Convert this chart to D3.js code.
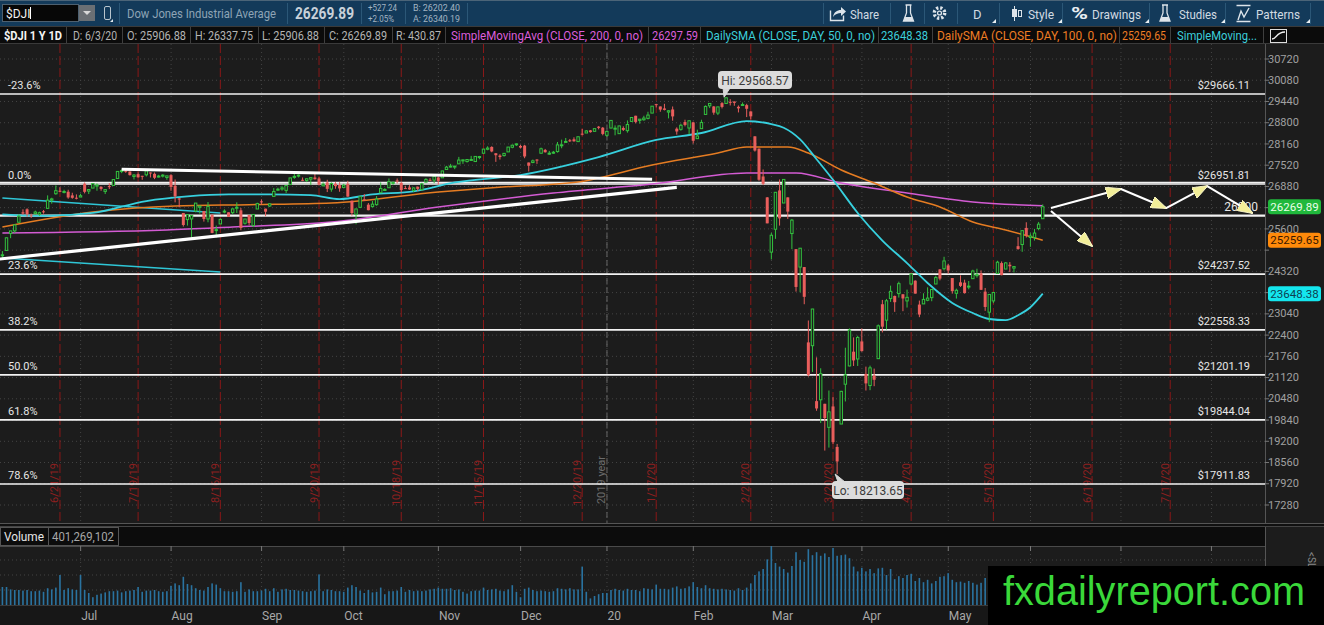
<!DOCTYPE html>
<html>
<head>
<meta charset="utf-8">
<script src="https://cdn.jsdelivr.net/npm/d3@7"></script>
<style>
  body { margin: 0; background: #1c1c1c; overflow: hidden; }
  svg { display: block; font-family: Roboto, "Open Sans", sans-serif; }
</style>
</head>
<body>
<svg id="chart" width="1324" height="625"></svg>
<script>
// ---- calendar ----
const startDate = "2019-06-03", endDate = "2020-09-01";
const holidays = ["2019-07-04","2019-09-02","2019-11-28","2019-12-25","2020-01-01",
  "2020-01-20","2020-02-17","2020-04-10","2020-05-25","2020-07-03"];

// ---- daily OHLC, $DJI 6/3/19 .. 6/3/20 (one row per month) ----
const opens = [
  24815,24950,25460,25540,25800,26100,26190,26010,26060,26040,26130,26220,26470,26660,26750,26700,26720,26610,26540,26560,
  26960,26740,26830,26890,26870,26730,26890,26910,27120,27350,27350,27330,27180,27250,27200,27230,27300,27260,27180,27190,27150,27220,
  26900,26520,26080,25880,25900,26140,26250,26140,25900,26030,25560,25750,26110,26100,26090,26250,26160,25770,26020,25700,26200,26430,
  26210,26290,26580,26770,26800,26760,26940,27180,27200,27080,27060,27100,27150,27120,26900,27000,26800,26960,26920,26850,
  26960,26450,26040,26250,26490,26330,26270,26330,26690,26770,26840,26990,27060,26990,26830,26850,26760,26870,26780,27010,27080,27070,27150,
  27140,27390,27480,27470,27560,27650,27630,27690,27630,27750,27880,28000,28070,27880,27810,27810,27920,28060,28140,28100,
  28110,27600,27600,27690,27880,27980,27880,27900,27930,28120,28230,28270,28300,28230,28470,28490,28570,28540,28680,28650,28420,
  28640,28630,28470,28640,28560,28840,29010,28870,28890,28930,29090,29360,29290,29230,29120,29200,28620,28600,28820,28640,28810,
  28320,28620,29050,29310,29290,29090,29390,29380,29430,29440,29280,29340,29330,29140,28390,28020,27180,26550,24900,
  25590,26760,26380,26550,25460,24990,24450,24450,22180,22080,20410,20450,20330,19620,20250,19030,19720,20920,21470,21900,21680,22210,
  21230,20880,21180,21690,23330,22850,23500,23580,23650,23630,23430,23940,24040,23320,23340,23450,23530,23940,24380,24400,24500,
  24120,23660,23990,23980,23870,24100,24220,24260,23710,23090,23430,24260,24570,24390,24520,24420,25080,25130,25630,25340,
  25340,25610,25907
];
const highs = [
  24930,25340,25540,25740,26040,26190,26220,26060,26150,26120,26170,26610,26540,26910,26860,26780,26780,26690,26640,26660,
  27000,26790,26970,26970,26880,26790,26980,27100,27340,27390,27400,27330,27250,27300,27200,27350,27300,27300,27230,27250,27200,27250,
  27090,26530,26080,26030,26010,26380,26300,26140,26410,26030,25700,25920,26190,26100,26220,26400,26230,25900,26020,26050,26390,26490,
  26210,26370,26830,26840,26900,26910,27140,27310,27240,27150,27120,27150,27300,27160,27000,27080,27000,27010,27010,26960,
  27050,26450,26210,26590,26650,26380,26440,26590,27000,26830,27120,27030,27120,27010,26900,26920,26850,26880,26990,27130,27130,27200,27170,
  27350,27500,27560,27500,27770,27690,27690,27800,27790,27800,28010,28090,28090,27880,27850,27890,28070,28140,28170,28130,
  28130,27600,27690,27700,28050,28010,27950,27950,28220,28290,28340,28310,28360,28380,28610,28580,28580,28620,28700,28670,28550,
  28870,28720,28710,28690,28870,28960,29010,28910,29010,29130,29300,29370,29290,29370,29180,29290,28660,28770,28890,28860,28830,
  28590,28890,29320,29390,29300,29280,29420,29569,29510,29440,29320,29410,29370,29140,28390,28020,27390,26560,25480,
  26710,27090,27090,26550,25900,24990,25020,24450,22840,23190,21730,21400,20330,20730,20530,19120,20720,22020,22600,22330,22380,22600,
  21450,21480,21390,22720,23460,23490,23890,23590,24010,23630,23770,24260,24050,23440,23660,23840,23790,24190,24390,24760,24550,
  24120,23800,24200,24070,24030,24370,24400,24350,23820,23630,23690,24640,24620,24600,24600,24470,25350,25550,25800,25470,
  25600,25810,26338
];
const lows = [
  24680,24940,25320,25480,25800,26030,25970,25930,26030,25990,26060,26200,26360,26630,26710,26670,26510,26510,26490,26560,
  26670,26650,26830,26750,26750,26650,26800,26900,27110,27280,27290,27210,27090,27150,27080,27180,27150,27100,27150,27150,27080,26750,
  26400,26250,25670,25700,25340,26100,26060,25820,25800,25470,25340,25750,26070,25960,26040,26080,25560,25730,25710,25660,26200,26330,
  25980,26260,26580,26740,26750,26680,26920,27110,27150,27040,27010,26920,27090,26910,26880,26710,26720,26810,26720,26850,
  26570,26000,25740,26230,26440,26160,26250,26300,26690,26740,26840,26930,26970,26700,26810,26780,26710,26740,26760,27000,27040,26980,26930,
  27140,27390,27450,27400,27560,27560,27600,27660,27620,27700,27870,27970,27910,27620,27690,27780,27920,28030,28100,28030,
  27730,27330,27580,27560,27880,27900,27830,27860,27900,28030,28230,28220,28230,28220,28420,28490,28500,28540,28600,28420,28380,
  28630,28420,28460,28550,28500,28840,28780,28770,28860,28900,29090,29260,29130,29170,28930,28860,28440,28560,28690,28450,28170,
  28320,28620,29050,29240,29040,29030,29230,29380,29320,29310,29110,29320,28970,28900,27930,27050,26920,25770,24680,
  25300,25700,26380,25900,24990,23710,23690,23330,21150,21290,20120,19750,18920,19010,19120,18214,19720,20400,21460,21470,21470,21900,
  20730,20740,20860,21690,22480,22570,23400,23100,23530,23120,23230,23900,23650,22940,23340,23420,23420,23940,24050,24350,24250,
  23650,23500,23850,23650,23780,24100,24130,23760,23130,22790,23360,24260,24200,24390,24300,24290,24970,24910,25340,25060,
  25250,25560,25907
];
const closes = [
  24820,25332,25540,25721,25984,26063,26049,26005,26107,26090,26113,26466,26504,26753,26719,26728,26548,26537,26527,26600,
  26717,26787,26966,26922,26806,26783,26860,27088,27332,27359,27336,27220,27223,27154,27172,27349,27270,27141,27192,27221,27198,26864,
  26583,26485,25718,26030,26007,26378,26287,25898,26280,25479,25579,25886,26136,25962,26203,26252,25629,25899,25778,26036,26362,26403,
  26118,26355,26728,26797,26836,26909,27137,27182,27220,27077,27111,27147,27095,26935,26950,26808,26971,26891,26820,26917,
  26573,26079,26201,26574,26478,26164,26346,26497,26817,26787,27025,27002,27026,26770,26828,26788,26834,26806,26958,27091,27071,27187,27046,
  27347,27462,27493,27493,27675,27681,27691,27692,27784,27782,28005,28036,27934,27821,27766,27876,28066,28122,28164,28051,
  27783,27503,27650,27678,28015,27910,27882,27911,28132,28135,28236,28267,28239,28377,28455,28552,28515,28621,28645,28462,28538,
  28869,28635,28703,28584,28745,28957,28824,28907,28940,29030,29298,29348,29196,29186,29160,28990,28536,28723,28734,28859,28256,
  28400,28808,29291,29380,29103,29277,29276,29551,29423,29398,29232,29348,29220,28992,27961,27081,26958,25767,25409,
  26703,25917,27091,26121,25865,23851,25018,23553,21201,23186,20189,21237,19899,20087,19174,18592,20705,21201,22552,21637,22327,21917,
  20944,21413,21053,22680,22654,23434,23719,23391,23950,23504,23538,24242,23650,23019,23476,23515,23775,24134,24102,24634,24346,
  23724,23750,23883,23665,23876,24331,24222,23765,23248,23625,23685,24597,24207,24576,24474,24465,24995,25548,25401,25383,
  25475,25743,26270
];
// volume, millions of shares
const volumes = [
  300,300,260,250,250,240,250,230,230,240,220,280,260,290,500,250,280,260,250,500,
  250,200,130,170,190,210,230,230,240,210,230,240,250,300,220,240,240,250,230,220,230,320,
  360,330,470,350,330,280,250,240,300,360,340,280,230,230,220,230,380,220,260,230,230,240,
  270,230,280,220,260,270,250,250,240,230,220,230,240,510,230,260,250,230,230,220,
  290,330,300,240,200,250,210,220,290,180,230,230,240,300,220,250,230,240,230,240,260,270,290,
  270,270,280,250,260,220,190,230,240,240,290,250,260,270,240,230,260,330,220,130,
  270,290,250,230,240,230,220,230,280,270,260,280,260,260,640,220,110,150,180,200,200,
  250,270,250,240,270,250,250,230,280,270,260,340,270,270,260,290,310,270,280,310,380,
  300,280,330,280,270,260,270,260,250,240,280,250,290,360,500,560,600,760,980,
  700,640,600,540,650,880,750,720,930,830,880,820,860,800,950,820,830,840,780,640,560,620,
  560,600,530,610,620,500,600,430,480,450,500,520,400,450,380,420,360,400,470,480,530,
  420,380,390,370,400,370,340,370,450,430,480,460,390,350,380,320,430,490,440,560,
  360,370,401
];

// ---- studies at bar numbers ----
const sma50Bars = [0,10,22,35,45,55,65,75,82,90,100,110,126,145,159,170,181,187,190,194,198,202,208,214,220,225,231,236,240,244,247,250,253];
const sma50 = [26040,25990,26080,26440,26580,26640,26640,26620,26500,26640,26730,27000,27224,27766,28280,28490,28850,28760,28650,28300,27700,27080,26080,25250,24570,23970,23370,23065,22885,22850,23000,23240,23648];
const sma100Bars = [0,22,42,60,80,106,120,140,158,174,181,191,196,204,212,220,228,236,244,253];
const sma100 = [25657,26109,26290,26330,26380,26712,26850,27013,27525,27887,28068,28068,27887,27375,26983,26561,26260,25807,25566,25260];
const sma200Bars = [0,40,56,80,106,134,158,181,193,204,220,236,253];
const sma200 = [25476,25566,25657,25807,26260,26682,26953,27284,27284,26983,26682,26410,26298];
const channelBars = [0, 53];
const channelUpper = [26530, 26079];
const channelLower = [24722, 24300];

// ---- drawings ----
const fibLabels = ["-23.6%", "0.0%", "23.6%", "38.2%", "50.0%", "61.8%", "78.6%"];
const fibPrices = [29666.11, 26951.81, 24237.52, 22558.33, 21201.19, 19844.04, 17911.83];
const extraLevels = [27000, 26000];
const upperTrendBars = [29, 158], upperTrend = [27400, 27100];
const lowerTrendBars = [0, 164], lowerTrend = [24700, 26850];
const pathBars = [255, 272, 283, 293, 304], pathPrices = [26229, 26802, 26229, 26892, 26078];
const dropBars = [255, 265], dropPrices = [26140, 25084];
const expiryDates = ["2019-06-21","2019-07-19","2019-08-16","2019-09-20","2019-10-18","2019-11-15",
  "2019-12-20","2020-01-17","2020-02-21","2020-03-20","2020-04-17","2020-05-15","2020-06-19","2020-07-17"];
const priceTicks = d3.range(17280, 30721, 640);
const lastClose = 26269.89, lastSma200 = 26297.59, lastSma50 = 23648.38, lastSma100 = 25259.65;

// ---- layout ----
const W = 1324, H = 625;
const plotR = 1265, priceTop = 44, priceBot = 523;
const volTop = 546, volBot = 605;
const bg = "#1c1c1c";

const parse = d3.utcParse("%Y-%m-%d"), fmt = d3.utcFormat("%Y-%m-%d");
const holidaySet = new Set(holidays);
const days = d3.utcDay.range(parse(startDate), parse(endDate))
  .filter(d => d.getUTCDay() % 6 !== 0 && !holidaySet.has(fmt(d)));
const dayIndex = new Map(days.map((d, i) => [fmt(d), i]));

const x = d3.scaleLinear().domain([0, 307]).range([2.4, 2.4 + 307 * 4.112]);
const y = d3.scaleLinear().domain([17280, 30720]).range([505, 59]);
const yv = d3.scaleLinear().domain([0, 983]).range([volBot, volTop]);

const hiBar = d3.maxIndex(highs), loBar = d3.minIndex(lows);

const svg = d3.select("#chart");
svg.append("rect").attr("width", W).attr("height", H).attr("fill", bg);

const defs = svg.append("defs");
defs.append("clipPath").attr("id", "priceClip").append("rect")
  .attr("x", 0).attr("y", priceTop).attr("width", plotR).attr("height", priceBot - priceTop);
defs.append("marker").attr("id", "head").attr("markerUnits", "userSpaceOnUse")
  .attr("viewBox", "0 0 16 12").attr("markerWidth", 16).attr("markerHeight", 12)
  .attr("refX", 15).attr("refY", 6).attr("orient", "auto")
  .append("path").attr("d", "M0,0L16,6L0,12Z").attr("fill", "#f2ee98").attr("stroke", "#fffbd0").attr("stroke-width", 0.8);

function label(g, px, py, s, o) {
  o = o || {};
  const t = g.append("text").attr("x", px).attr("y", py).text(s)
    .attr("fill", o.fill || "#ccc").attr("font-size", o.size || 11)
    .attr("text-anchor", o.anchor || "start");
  if (o.weight) t.attr("font-weight", o.weight);
  if (o.family) t.attr("font-family", o.family);
  if (o.len) t.attr("textLength", o.len).attr("lengthAdjust", "spacingAndGlyphs");
  return t;
}

// month boundaries
const monthStarts = [];
days.forEach((d, i) => { if (i > 0 && d.getUTCMonth() !== days[i - 1].getUTCMonth()) monthStarts.push(i); });
const monthName = i => days[i].getUTCMonth() === 0 ? d3.utcFormat("%y")(days[i]) : d3.utcFormat("%b")(days[i]);
const gridX = i => x(i) - 4;

// ---- price panel ----
const price = svg.append("g").attr("clip-path", "url(#priceClip)");

price.append("g").selectAll("line").data(priceTicks).join("line")
  .attr("x1", 0).attr("x2", plotR).attr("y1", d => y(d)).attr("y2", d => y(d))
  .attr("stroke", "#444").attr("stroke-dasharray", "1,3");
price.append("g").selectAll("line").data(monthStarts).join("line")
  .attr("x1", gridX).attr("x2", gridX).attr("y1", priceTop).attr("y2", priceBot)
  .attr("stroke", "#444").attr("stroke-dasharray", "1,3");

// option expiry markers
const exp = price.append("g");
expiryDates.forEach(ds => {
  const ex = x(dayIndex.get(ds));
  exp.append("line").attr("x1", ex).attr("x2", ex).attr("y1", priceTop).attr("y2", priceBot)
    .attr("stroke", "#8a1818").attr("stroke-dasharray", "9,3");
  const p = ds.split("-");
  exp.append("text").attr("transform", `translate(${ex - 1.5},483) rotate(-90)`)
    .attr("text-anchor", "middle").attr("font-size", 11).attr("fill", "#8e2020")
    .text(`${+p[1]}/${+p[2]}/${p[0].slice(2)}`);
});
const yearX = gridX(dayIndex.get("2020-01-02"));
exp.append("line").attr("x1", yearX).attr("x2", yearX).attr("y1", priceTop).attr("y2", priceBot)
  .attr("stroke", "#666").attr("stroke-dasharray", "6,3");
exp.append("text").attr("transform", `translate(${yearX - 2},480) rotate(-90)`)
  .attr("text-anchor", "middle").attr("font-size", 11).attr("fill", "#6c6c6c").text("2019 year");

// fibonacci levels
const fib = price.append("g");
fibPrices.forEach((p, k) => {
  fib.append("line").attr("x1", 0).attr("x2", plotR).attr("y1", y(p)).attr("y2", y(p))
    .attr("stroke", "#f2f2f2").attr("stroke-width", 1.6);
  label(fib, 8, y(p) - 5, fibLabels[k], { fill: "#e6e6e6" });
  label(fib, 1250, y(p) - 5, "$" + p.toFixed(2), { fill: "#e6e6e6", anchor: "end" });
});
extraLevels.forEach(p => {
  fib.append("line").attr("x1", 0).attr("x2", plotR).attr("y1", y(p)).attr("y2", y(p))
    .attr("stroke", "#f2f2f2").attr("stroke-width", p === 26000 ? 2.2 : 1.6);
});
label(fib, 1258, y(26000) - 5, "26000", { fill: "#e6e6e6", anchor: "end", size: 12 });

// studies
const line = (bars, vals) => d3.line().curve(d3.curveMonotoneX)
  .x((d, k) => x(bars[k])).y((d, k) => y(vals[k]))(vals);
const studies = price.append("g").attr("fill", "none").attr("stroke-width", 1.5);
studies.append("path").attr("d", line(channelBars, channelUpper)).attr("stroke", "#2fc6d6");
studies.append("path").attr("d", line(channelBars, channelLower)).attr("stroke", "#2fc6d6");
studies.append("path").attr("d", line(sma200Bars, sma200)).attr("stroke", "#d35bd3");
studies.append("path").attr("d", line(sma100Bars, sma100)).attr("stroke", "#e57c22");
studies.append("path").attr("d", line(sma50Bars, sma50)).attr("stroke", "#37d0de").attr("stroke-width", 1.8);

// candles
const up = "#33c23f", down = "#e95e5c";
const candles = closes.map((c, i) => ({ i, o: opens[i], h: highs[i], l: lows[i], c }));
const candle = price.append("g").selectAll("g").data(candles).join("g");
candle.append("line")
  .attr("x1", d => x(d.i)).attr("x2", d => x(d.i))
  .attr("y1", d => y(d.h)).attr("y2", d => y(d.l))
  .attr("stroke", d => d.c >= d.o ? up : down);
candle.append("rect")
  .attr("x", d => x(d.i) - (d.c >= d.o ? 1.2 : 1.5))
  .attr("width", d => d.c >= d.o ? 2.4 : 3)
  .attr("y", d => y(Math.max(d.o, d.c)))
  .attr("height", d => Math.max(1, Math.abs(y(d.o) - y(d.c))))
  .attr("fill", d => d.c >= d.o ? bg : down)
  .attr("stroke", d => d.c >= d.o ? up : "none");

// trend lines and projected path
const draw = price.append("g").attr("stroke", "#fff").attr("fill", "none");
draw.append("line").attr("x1", x(upperTrendBars[0])).attr("y1", y(upperTrend[0]))
  .attr("x2", x(upperTrendBars[1])).attr("y2", y(upperTrend[1])).attr("stroke-width", 3);
draw.append("line").attr("x1", x(lowerTrendBars[0]) - 3).attr("y1", y(lowerTrend[0]) + 0.3)
  .attr("x2", x(lowerTrendBars[1])).attr("y2", y(lowerTrend[1])).attr("stroke-width", 3.2);
d3.pairs(d3.range(pathBars.length)).forEach(([a, b]) => {
  draw.append("line").attr("x1", x(pathBars[a])).attr("y1", y(pathPrices[a]))
    .attr("x2", x(pathBars[b])).attr("y2", y(pathPrices[b]))
    .attr("stroke-width", 2).attr("marker-end", "url(#head)");
});
draw.append("line").attr("x1", x(dropBars[0])).attr("y1", y(dropPrices[0]))
  .attr("x2", x(dropBars[1])).attr("y2", y(dropPrices[1]))
  .attr("stroke-width", 2).attr("marker-end", "url(#head)");

// hi / lo callouts
function callout(bx, by, bw, txt, tipX, tipY, cornerX, cornerY) {
  const g = price.append("g");
  g.append("path").attr("d", `M${tipX},${tipY}L${cornerX},${cornerY}L${cornerX + 7},${cornerY}Z`)
    .attr("fill", "#d8d8d8").attr("stroke", "#d8d8d8");
  g.append("rect").attr("x", bx).attr("y", by).attr("width", bw).attr("height", 18).attr("rx", 4)
    .attr("fill", "#dcdcdc");
  label(g, bx + bw / 2, by + 13.5, txt, { fill: "#3a3a3a", size: 12, anchor: "middle" });
}
callout(718, 71, 74, "Hi: 29568.57", x(hiBar) - 2, y(highs[hiBar]), 723, 88);
callout(832, 481, 72, "Lo: 18213.65", x(loBar) - 2, y(lows[loBar]), 838, 482);

// ---- right price axis ----
const axis = svg.append("g");
axis.append("rect").attr("x", plotR).attr("y", priceTop).attr("width", W - plotR).attr("height", volBot - priceTop).attr("fill", bg);
axis.append("line").attr("x1", plotR + 0.5).attr("x2", plotR + 0.5).attr("y1", priceTop).attr("y2", volBot).attr("stroke", "#555");
const tags = [
  { v: lastClose, bgc: "#20b83c", fg: "#eaffea" },
  { v: lastSma100, bgc: "#ff8a0a", fg: "#3a1800" },
  { v: lastSma50, bgc: "#14e6ee", fg: "#0d3f52" }
];
// labels hidden under a price tag are not drawn
const shownTicks = priceTicks.filter(t => tags.every(g => Math.abs(y(t) - y(g.v)) > 10));
axis.selectAll(".tk").data(priceTicks).join("line")
  .attr("x1", plotR).attr("x2", plotR + 4).attr("y1", d => y(d)).attr("y2", d => y(d)).attr("stroke", "#777");
axis.selectAll(".tl").data(shownTicks).join("text")
  .attr("x", plotR + 3).attr("y", d => y(d) + 3.6).attr("font-size", 11).attr("fill", "#a0a0a0")
  .text(d => d);
tags.forEach(t => {
  axis.append("rect").attr("x", plotR + 3).attr("y", y(t.v) - 7.4).attr("width", 53).attr("height", 15)
    .attr("rx", 3).attr("fill", t.bgc);
  label(axis, plotR + 29.5, y(t.v) + 4, t.v.toFixed(2), { fill: t.fg, size: 11.5, anchor: "middle" });
});

// ---- panel separators and volume ----
svg.append("line").attr("x1", 0).attr("x2", W).attr("y1", priceBot + 0.5).attr("y2", priceBot + 0.5).attr("stroke", "#555");
svg.append("rect").attr("x", 0).attr("y", 524).attr("width", W).attr("height", 3).attr("fill", "#101010");
svg.append("rect").attr("x", 0).attr("y", 527).attr("width", plotR).attr("height", 19).attr("fill", "#0c0c0c");
svg.append("line").attr("x1", 0).attr("x2", W).attr("y1", 526.5).attr("y2", 526.5).attr("stroke", "#444");
svg.append("line").attr("x1", 0).attr("x2", plotR).attr("y1", volTop + 0.5).attr("y2", volTop + 0.5).attr("stroke", "#4a4a4a");
svg.append("rect").attr("x", 0.5).attr("y", 527.5).attr("width", 48).attr("height", 18).attr("fill", "none").attr("stroke", "#555");
svg.append("rect").attr("x", 48.5).attr("y", 527.5).attr("width", 70).attr("height", 18).attr("fill", "none").attr("stroke", "#555");
label(svg, 4, 541, "Volume", { fill: "#e6e6e6", size: 12, len: 40 });
label(svg, 52, 541, d3.format(",")(401269102), { fill: "#a8a8a8", size: 12, len: 62 });

const vol = svg.append("g");
vol.selectAll(".vg").data([250, 500, 750]).join("line")
  .attr("x1", 0).attr("x2", plotR).attr("y1", d => yv(d)).attr("y2", d => yv(d))
  .attr("stroke", "#444").attr("stroke-dasharray", "1,3");
vol.selectAll(".vm").data(monthStarts).join("line")
  .attr("x1", gridX).attr("x2", gridX).attr("y1", volTop).attr("y2", volBot)
  .attr("stroke", "#444").attr("stroke-dasharray", "1,3");
vol.selectAll(".vt").data(monthStarts).join("line")
  .attr("x1", gridX).attr("x2", gridX).attr("y1", volTop).attr("y2", volTop + 5).attr("stroke", "#777");
vol.selectAll(".vb").data(volumes).join("rect")
  .attr("x", (d, i) => x(i) - 0.8).attr("width", 1.6)
  .attr("y", d => yv(d)).attr("height", d => volBot - yv(d)).attr("fill", "#2a73a0");
svg.append("text").attr("transform", "translate(1308,552) rotate(90)").attr("font-size", 10)
  .attr("fill", "#888").text("<SL");

// ---- time axis ----
svg.append("rect").attr("x", 0).attr("y", volBot).attr("width", W).attr("height", H - volBot).attr("fill", "#171717");
svg.append("line").attr("x1", 0).attr("x2", plotR).attr("y1", volBot + 0.5).attr("y2", volBot + 0.5).attr("stroke", "#3a3a3a");
// the months under the watermark are not visible
svg.append("g").selectAll("text").data(monthStarts.filter(i => gridX(i) < 975)).join("text")
  .attr("x", d => gridX(d) + 0.5).attr("y", 620).attr("font-size", 12).attr("fill", "#a8a8a8")
  .text(monthName);

// ---- toolbar ----
const toolbar = svg.append("g");
toolbar.append("rect").attr("width", W).attr("height", 26).attr("fill", "#133a5a");
toolbar.append("line").attr("x1", 0).attr("x2", W).attr("y1", 0.5).attr("y2", 0.5).attr("stroke", "#4b6478");
[119, 287, 361, 405, 467, 823, 890, 924, 957, 999, 1062, 1149, 1225, 1310].forEach(sx =>
  toolbar.append("line").attr("x1", sx + 0.5).attr("x2", sx + 0.5).attr("y1", 3).attr("y2", 24).attr("stroke", "#2b5777"));
toolbar.append("rect").attr("x", 2.5).attr("y", 4.5).attr("width", 76).attr("height", 17).attr("fill", "#070707").attr("stroke", "#4d6070");
label(toolbar, 6, 17.5, "$DJI", { fill: "#f2f2f2", size: 12 });
toolbar.append("line").attr("x1", 30.5).attr("x2", 30.5).attr("y1", 7).attr("y2", 19).attr("stroke", "#fff");
toolbar.append("rect").attr("x", 79).attr("y", 5).attr("width", 16).attr("height", 16).attr("fill", "#6a6f74");
toolbar.append("path").attr("d", "M83,11L91,11L87,15Z").attr("fill", "#d8d8d8");
toolbar.append("rect").attr("x", 104.5).attr("y", 6.5).attr("width", 6).attr("height", 13).attr("rx", 1.5)
  .attr("fill", "none").attr("stroke", "#b8c4cc");
toolbar.append("path").attr("d", "M110,22L113,22L113,19Z").attr("fill", "#dfe6ea");
label(toolbar, 127, 18, "Dow Jones Industrial Average", { fill: "#8ea4b6", size: 13, len: 149 });
label(toolbar, 295, 19, "26269.89", { fill: "#c8d1d9", size: 16, weight: "bold", len: 59 });
label(toolbar, 368, 11, "+527.24", { fill: "#a3b4c2", size: 9.5, len: 29 });
label(toolbar, 368, 22, "+2.05%", { fill: "#a3b4c2", size: 9.5, len: 26 });
label(toolbar, 413, 11, "B: 26202.40", { fill: "#a3b4c2", size: 9.5, len: 47 });
label(toolbar, 413, 22, "A: 26340.19", { fill: "#a3b4c2", size: 9.5, len: 47 });

const ic = "#dde4ea";
toolbar.append("path").attr("d", "M830.5,10.5L830.5,20.5L843.5,20.5L843.5,15.5").attr("fill", "none").attr("stroke", ic).attr("stroke-width", 1.4);
toolbar.append("path").attr("d", "M833,17C834,12 837,10 841,10L841,7L846,11.5L841,16L841,13C838,13 835,14 833,17Z").attr("fill", ic);
label(toolbar, 850, 18.5, "Share", { fill: "#d2dae2", size: 13, len: 29 });
function flask(fx) {
  toolbar.append("path").attr("d", `M${fx + 2},5L${fx + 8},5M${fx + 3},5L${fx + 3},13L${fx},21L${fx + 10},21L${fx + 7},13L${fx + 7},5`)
    .attr("fill", "none").attr("stroke", ic).attr("stroke-width", 1.3);
  toolbar.append("path").attr("d", `M${fx + 1.5},17L${fx + 8.5},17L${fx + 10},21L${fx},21Z`).attr("fill", ic);
}
flask(903.5);
toolbar.append("circle").attr("cx", 939.5).attr("cy", 13).attr("r", 5.2).attr("fill", "none").attr("stroke", ic)
  .attr("stroke-width", 3.4).attr("stroke-dasharray", "2.2,1.9");
toolbar.append("circle").attr("cx", 939.5).attr("cy", 13).attr("r", 2.6).attr("fill", ic);
toolbar.append("circle").attr("cx", 939.5).attr("cy", 13).attr("r", 1.3).attr("fill", "#133a5a");
label(toolbar, 973, 18.5, "D", { fill: "#d2dae2", size: 13 });
[992, 1058, 1145, 1221, 1306].forEach(tx =>
  toolbar.append("path").attr("d", `M${tx},23L${tx + 4},23L${tx + 4},19Z`).attr("fill", "#e8eef2"));
toolbar.append("line").attr("x1", 1014.5).attr("x2", 1014.5).attr("y1", 6).attr("y2", 21).attr("stroke", ic);
toolbar.append("rect").attr("x", 1012).attr("y", 9).attr("width", 5).attr("height", 8).attr("fill", ic);
toolbar.append("rect").attr("x", 1018.5).attr("y", 10.5).attr("width", 3).attr("height", 6).attr("fill", "none").attr("stroke", ic);
label(toolbar, 1028, 18.5, "Style", { fill: "#d2dae2", size: 13, len: 26 });
label(toolbar, 1071, 19, "%", { fill: "#e8eef2", size: 16, weight: "bold", len: 17 });
label(toolbar, 1092, 18.5, "Drawings", { fill: "#d2dae2", size: 13, len: 49 });
flask(1160);
label(toolbar, 1179, 18.5, "Studies", { fill: "#d2dae2", size: 13, len: 38 });
toolbar.append("path").attr("d", "M1236.5,5.5L1250.5,5.5M1238,20L1241,11L1244,17L1249,8M1236.5,21.5L1250.5,21.5")
  .attr("fill", "none").attr("stroke", ic).attr("stroke-width", 1.4);
label(toolbar, 1256, 18.5, "Patterns", { fill: "#d2dae2", size: 13, len: 44 });

// ---- study header row ----
const row = svg.append("g");
row.append("rect").attr("y", 26).attr("width", W).attr("height", 18).attr("fill", "#0b0b0b");
row.append("line").attr("x1", 0).attr("x2", W).attr("y1", 26.5).attr("y2", 26.5).attr("stroke", "#3a3a3a");
row.append("line").attr("x1", 0).attr("x2", W).attr("y1", 43.5).attr("y2", 43.5).attr("stroke", "#3a3a3a");
[66, 122, 190, 258, 324, 392, 445, 648, 700, 878, 932, 1119, 1170, 1263].forEach(sx =>
  row.append("line").attr("x1", sx + 0.5).attr("x2", sx + 0.5).attr("y1", 27).attr("y2", 43).attr("stroke", "#3f3f3f"));
const rowY = 39.5, cellCol = "#b4b4b4";
label(row, 4, rowY, "$DJI 1 Y 1D", { fill: "#f4f4f4", size: 12, weight: "bold", len: 58 });
label(row, 73, rowY, "D: 6/3/20", { fill: cellCol, size: 12, len: 44 });
label(row, 127, rowY, "O: 25906.88", { fill: cellCol, size: 12, len: 59 });
label(row, 195, rowY, "H: 26337.75", { fill: cellCol, size: 12, len: 58 });
label(row, 262, rowY, "L: 25906.88", { fill: cellCol, size: 12, len: 57 });
label(row, 329, rowY, "C: 26269.89", { fill: cellCol, size: 12, len: 58 });
label(row, 396, rowY, "R: 430.87", { fill: cellCol, size: 12, len: 45 });
label(row, 451, rowY, "SimpleMovingAvg (CLOSE, 200, 0, no)", { fill: "#dc5fdc", size: 12, len: 192 });
label(row, 652, rowY, lastSma200.toFixed(2), { fill: "#dc5fdc", size: 12, len: 46 });
label(row, 706, rowY, "DailySMA (CLOSE, DAY, 50, 0, no)", { fill: "#3ccfdc", size: 12, len: 169 });
label(row, 881, rowY, lastSma50.toFixed(2), { fill: "#3ccfdc", size: 12, len: 47 });
label(row, 937, rowY, "DailySMA (CLOSE, DAY, 100, 0, no)", { fill: "#ee7d24", size: 12, len: 180 });
label(row, 1122, rowY, lastSma100.toFixed(2), { fill: "#ee7d24", size: 12, len: 44 });
label(row, 1177, rowY, "SimpleMoving...", { fill: "#3ccfdc", size: 12, len: 80 });
row.append("rect").attr("x", 1270.5).attr("y", 29.5).attr("width", 16).attr("height", 13).attr("fill", "none").attr("stroke", "#ddd");
row.append("path").attr("d", "M1272,39C1277,39 1276,32 1285,32").attr("fill", "none").attr("stroke", "#eee").attr("stroke-width", 1.3);

// ---- watermark ----
svg.append("rect").attr("x", 988).attr("y", 566).attr("width", W - 988).attr("height", H - 566).attr("fill", "#000");
label(svg, 1003, 605, "fxdailyreport.com", { fill: "#3ad83a", size: 41, family: "'Liberation Sans', Arial, sans-serif", len: 302 });
</script>
</body>
</html>
